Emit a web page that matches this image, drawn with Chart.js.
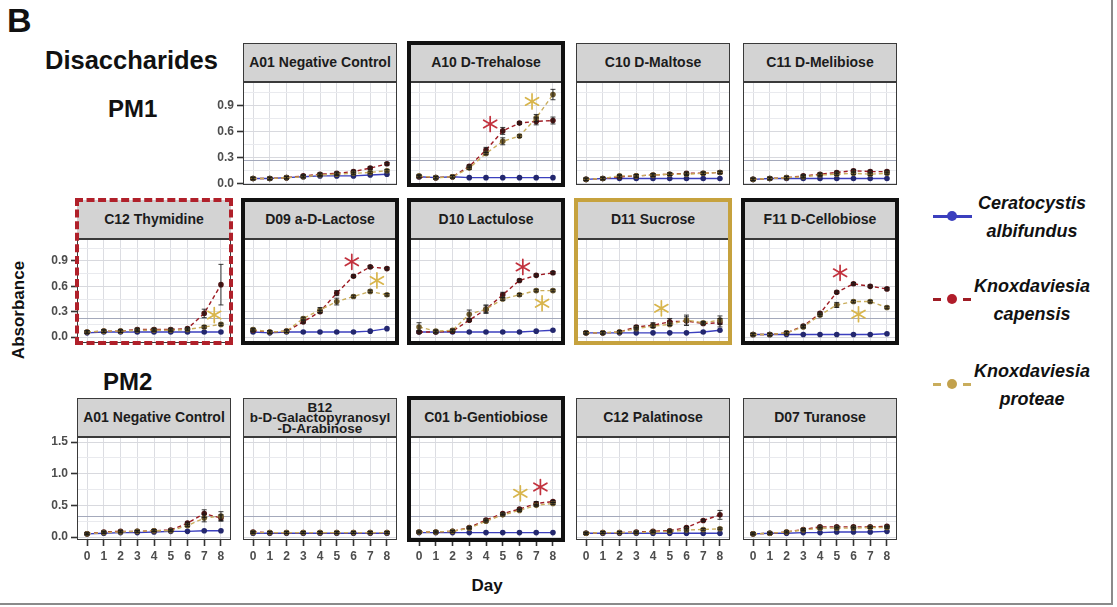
<!DOCTYPE html>
<html>
<head>
<meta charset="utf-8">
<script src="https://cdn.jsdelivr.net/npm/chart.js@4.4.1/dist/chart.umd.min.js"></script>
<style>
  html, body { margin: 0; padding: 0; background: #fff; }
  #fig { position: relative; width: 1117px; height: 607px; overflow: hidden;
         font-family: "Liberation Sans", Arial, Helvetica, sans-serif; color: #111; }
  .txt { position: absolute; white-space: nowrap; font-weight: bold; line-height: 1; }
  .strip { position: absolute; box-sizing: border-box; background: #d3d3d3;
           border-bottom: 1px solid #3a3a3a; display: flex; align-items: center;
           justify-content: center; text-align: center; font-weight: bold;
           font-size: 14px; color: #1c1c1c; white-space: pre; z-index: 2; }
  .strip.multi { font-size: 13.5px; line-height: 10.5px; padding-top: 3px; }
  .frame { position: absolute; box-sizing: border-box; pointer-events: none; z-index: 3; }
  .plot { position: absolute; z-index: 1; }
  .leg { position: absolute; font-weight: bold; font-style: italic; font-size: 18px;
         text-align: center; width: 150px; line-height: 28px; color: #111; }
</style>
</head>
<body>
<div id="fig"></div>
<script>
// ---------------- data ----------------
const days = [0, 1, 2, 3, 4, 5, 6, 7, 8];

const panelTitles = [
  'A01 Negative Control', 'A10 D-Trehalose', 'C10 D-Maltose', 'C11 D-Melibiose',
  'C12 Thymidine', 'D09 a-D-Lactose', 'D10 Lactulose', 'D11 Sucrose', 'F11 D-Cellobiose',
  'A01 Negative Control', 'B12\nb-D-Galactopyranosyl\n-D-Arabinose', 'C01 b-Gentiobiose',
  'C12 Palatinose', 'D07 Turanose'
];

// mean absorbance per panel, days 0..8
const albifundus = [
  [0.06, 0.06, 0.07, 0.08, 0.09, 0.09, 0.09, 0.10, 0.11],
  [0.08, 0.07, 0.08, 0.07, 0.07, 0.07, 0.07, 0.07, 0.07],
  [0.05, 0.06, 0.06, 0.06, 0.06, 0.06, 0.06, 0.06, 0.06],
  [0.05, 0.06, 0.06, 0.06, 0.06, 0.06, 0.06, 0.06, 0.06],
  [0.05, 0.06, 0.06, 0.06, 0.06, 0.06, 0.06, 0.06, 0.06],
  [0.06, 0.05, 0.06, 0.06, 0.06, 0.06, 0.06, 0.07, 0.10],
  [0.06, 0.06, 0.06, 0.06, 0.06, 0.06, 0.06, 0.07, 0.08],
  [0.05, 0.05, 0.05, 0.05, 0.05, 0.05, 0.05, 0.06, 0.08],
  [0.03, 0.03, 0.03, 0.03, 0.03, 0.03, 0.03, 0.03, 0.04],
  [0.05, 0.06, 0.07, 0.07, 0.08, 0.09, 0.09, 0.10, 0.10],
  [0.06, 0.06, 0.06, 0.06, 0.06, 0.06, 0.06, 0.06, 0.06],
  [0.07, 0.07, 0.07, 0.07, 0.07, 0.07, 0.07, 0.07, 0.07],
  [0.06, 0.06, 0.06, 0.06, 0.06, 0.06, 0.06, 0.06, 0.06],
  [0.05, 0.06, 0.06, 0.07, 0.07, 0.08, 0.08, 0.08, 0.09]
];

const capensis = [
  [0.06, 0.06, 0.07, 0.09, 0.11, 0.12, 0.14, 0.18, 0.23],
  [0.08, 0.07, 0.08, 0.20, 0.39, 0.61, 0.70, 0.72, 0.73],
  [0.05, 0.06, 0.08, 0.09, 0.10, 0.11, 0.12, 0.12, 0.13],
  [0.05, 0.06, 0.07, 0.09, 0.11, 0.13, 0.15, 0.14, 0.14],
  [0.06, 0.07, 0.07, 0.09, 0.09, 0.09, 0.10, 0.28, 0.62],
  [0.08, 0.06, 0.07, 0.18, 0.30, 0.52, 0.72, 0.83, 0.81],
  [0.06, 0.06, 0.07, 0.20, 0.33, 0.50, 0.67, 0.73, 0.76],
  [0.05, 0.05, 0.06, 0.12, 0.14, 0.18, 0.19, 0.16, 0.17],
  [0.03, 0.03, 0.05, 0.13, 0.28, 0.53, 0.63, 0.60, 0.57],
  [0.05, 0.08, 0.09, 0.09, 0.10, 0.11, 0.22, 0.37, 0.30],
  [0.08, 0.07, 0.07, 0.07, 0.07, 0.07, 0.07, 0.07, 0.07],
  [0.08, 0.08, 0.09, 0.15, 0.27, 0.37, 0.44, 0.53, 0.56],
  [0.06, 0.07, 0.07, 0.08, 0.09, 0.10, 0.15, 0.26, 0.35],
  [0.05, 0.06, 0.08, 0.12, 0.16, 0.16, 0.16, 0.16, 0.17]
];

const proteae = [
  [0.06, 0.06, 0.07, 0.08, 0.10, 0.11, 0.12, 0.13, 0.15],
  [0.09, 0.07, 0.08, 0.18, 0.35, 0.49, 0.55, 0.76, 1.03],
  [0.05, 0.06, 0.09, 0.09, 0.10, 0.11, 0.11, 0.12, 0.13],
  [0.05, 0.06, 0.07, 0.08, 0.10, 0.11, 0.12, 0.11, 0.12],
  [0.06, 0.07, 0.07, 0.08, 0.08, 0.08, 0.09, 0.12, 0.15],
  [0.09, 0.06, 0.07, 0.22, 0.32, 0.42, 0.48, 0.54, 0.50],
  [0.12, 0.07, 0.08, 0.27, 0.33, 0.45, 0.50, 0.55, 0.55],
  [0.05, 0.05, 0.06, 0.10, 0.13, 0.15, 0.20, 0.17, 0.20],
  [0.03, 0.03, 0.05, 0.12, 0.26, 0.38, 0.42, 0.42, 0.35],
  [0.05, 0.07, 0.08, 0.09, 0.10, 0.10, 0.18, 0.30, 0.33],
  [0.07, 0.07, 0.07, 0.07, 0.07, 0.07, 0.07, 0.07, 0.07],
  [0.08, 0.08, 0.09, 0.14, 0.25, 0.35, 0.42, 0.50, 0.53],
  [0.06, 0.07, 0.07, 0.07, 0.08, 0.09, 0.11, 0.12, 0.13],
  [0.05, 0.06, 0.08, 0.11, 0.14, 0.14, 0.14, 0.15, 0.15]
];

// standard deviations: default for every point, then [panel, day, sd] overrides
const defaultSd = 0.015;
const capensisSd = [
  [1, 4, 0.03], [1, 5, 0.04], [1, 7, 0.04], [1, 8, 0.04],
  [4, 7, 0.05], [4, 8, 0.24], [5, 5, 0.03], [6, 4, 0.04], [6, 5, 0.03],
  [7, 4, 0.03], [7, 5, 0.04], [7, 6, 0.05], [7, 8, 0.05],
  [9, 7, 0.06], [9, 8, 0.05], [11, 7, 0.03], [12, 8, 0.07]
];
const proteaeSd = [
  [1, 5, 0.04], [1, 7, 0.04], [1, 8, 0.06], [5, 4, 0.03], [5, 5, 0.04],
  [6, 0, 0.05], [6, 3, 0.05], [6, 4, 0.05], [7, 6, 0.06], [7, 8, 0.05],
  [8, 5, 0.03], [9, 7, 0.06], [9, 8, 0.07]
];

// significance markers: [panel, day position, absorbance, species]
const significance = [
  [1, 4.25, 0.69, 'capensis'], [1, 6.75, 0.95, 'proteae'],
  [4, 7.6, 0.26, 'proteae'],
  [5, 5.9, 0.89, 'capensis'], [5, 7.4, 0.67, 'proteae'],
  [6, 6.2, 0.83, 'capensis'], [6, 7.35, 0.40, 'proteae'],
  [7, 4.5, 0.34, 'proteae'],
  [8, 5.2, 0.76, 'capensis'], [8, 6.3, 0.27, 'proteae'],
  [11, 6.05, 0.69, 'proteae'], [11, 7.25, 0.79, 'capensis']
];

// background cut-off line for each row of panels
const cutoff = [0.27, 0.22, 0.33];

// y tick steps per row: [minor, major]
const yStep = [[0.15, 0.3], [0.15, 0.3], [0.25, 0.5]];

// ---------------- layout ----------------
const colX = [77, 243, 409, 576, 743];
const panelW = 154;
const rowTop = [43, 200, 398];
const rowH = [142, 143, 142];
const stripH = 39;
const labelRoom = 9;
const yRange = [[-0.015, 1.175], [-0.07, 1.16], [-0.047, 1.58]];
const panelRow = [0, 0, 0, 0, 1, 1, 1, 1, 1, 2, 2, 2, 2, 2];
const panelCol = [1, 2, 3, 4, 0, 1, 2, 3, 4, 0, 1, 2, 3, 4];
const panelFrame = ['', 'black', '', '', 'red', 'black', 'black', 'gold', 'black',
                    '', '', 'black', '', ''];

const colours = {
  albifundus: { line: '#3b3fbe', point: '#23276e' },
  capensis:   { line: '#9e1c24', point: '#4d1414' },
  proteae:    { line: '#c9ad5c', point: '#6f5b2c' }
};
const starColour = { capensis: '#c2323e', proteae: '#d8b54c' };

const fig = document.getElementById('fig');
function addText(html, css, cls) {
  const d = document.createElement('div');
  d.className = cls || 'txt';
  d.innerHTML = html;
  Object.assign(d.style, css);
  fig.appendChild(d);
  return d;
}

// panel decorations: cut-off line, error bars, significance stars, frame
const panelDecor = {
  id: 'panelDecor',
  beforeDatasetsDraw(chart, args, o) {
    const { ctx, chartArea: a, scales: { y } } = chart;
    const py = Math.round(y.getPixelForValue(o.cutoff)) + 0.5;
    ctx.save();
    ctx.strokeStyle = '#a4a9bb';
    ctx.lineWidth = 1;
    ctx.beginPath(); ctx.moveTo(a.left, py); ctx.lineTo(a.right, py); ctx.stroke();
    ctx.restore();
  },
  afterDatasetsDraw(chart, args, o) {
    const { ctx, chartArea: a, scales: { x, y } } = chart;
    ctx.save();
    ctx.strokeStyle = 'rgba(25,25,25,0.85)';
    ctx.lineWidth = 1;
    o.errors.forEach(([vals, sds]) => {
      vals.forEach((v, i) => {
        const sd = sds[i];
        const px = x.getPixelForValue(days[i]);
        const y1 = y.getPixelForValue(v - sd), y2 = y.getPixelForValue(v + sd);
        ctx.beginPath();
        ctx.moveTo(px, y1); ctx.lineTo(px, y2);
        ctx.moveTo(px - 2.5, y1); ctx.lineTo(px + 2.5, y1);
        ctx.moveTo(px - 2.5, y2); ctx.lineTo(px + 2.5, y2);
        ctx.stroke();
      });
    });
    ctx.restore();
    // asterisks
    o.stars.forEach(([, dx, v, sp]) => {
      const cx = x.getPixelForValue(dx), cy = y.getPixelForValue(v);
      ctx.save();
      ctx.strokeStyle = starColour[sp];
      ctx.lineWidth = 1.7;
      ctx.lineCap = 'round';
      ctx.beginPath();
      for (let k = 0; k < 3; k++) {
        const ang = Math.PI / 2 + k * Math.PI / 3;
        const r = 7.5;
        ctx.moveTo(cx - r * Math.cos(ang), cy - r * Math.sin(ang));
        ctx.lineTo(cx + r * Math.cos(ang), cy + r * Math.sin(ang));
      }
      ctx.stroke();
      ctx.restore();
    });
    ctx.save();
    ctx.strokeStyle = '#3a3a3a';
    ctx.lineWidth = 1;
    ctx.strokeRect(a.left + 0.5, a.top + 0.5, a.right - a.left - 1, a.bottom - a.top - 1);
    ctx.restore();
  }
};

function sdArray(p, vals, overrides) {
  const out = vals.map(() => defaultSd);
  overrides.forEach(([pp, d, s]) => { if (pp === p) out[d] = s; });
  return out;
}

function isMultiple(v, step) {
  const r = v / step;
  return Math.abs(r - Math.round(r)) < 1e-6;
}

panelTitles.forEach((title, p) => {
  const r = panelRow[p], c = panelCol[p];
  const left = colX[c], top = rowTop[r], h = rowH[r];
  const showY = c === (r === 0 ? 1 : 0);
  const showX = r === 2;
  const leftW = showY ? 44 : 0;
  const bottomH = showX ? 30 : 0;
  const padTop = showY ? labelRoom : 0;
  const padBottom = showY && !showX ? labelRoom : 0;
  const plotTop = top + stripH;
  const plotH = h - stripH;

  // strip
  const s = document.createElement('div');
  s.className = 'strip' + (title.includes('\n') ? ' multi' : '');
  s.textContent = title;
  Object.assign(s.style, { left: left + 'px', top: top + 'px', width: panelW + 'px', height: stripH + 'px' });
  fig.appendChild(s);

  // frame
  const f = document.createElement('div');
  f.className = 'frame';
  let border = '1px solid #3a3a3a', inset = 0;
  if (panelFrame[p] === 'black') { border = '4px solid #111'; inset = 2; }
  if (panelFrame[p] === 'gold') { border = '4px solid #c6a23e'; inset = 2; }
  if (panelFrame[p] === 'red') { border = '4px dashed #b0202a'; inset = 2; }
  Object.assign(f.style, {
    left: (left - inset) + 'px', top: (top - inset) + 'px',
    width: (panelW + 2 * inset) + 'px', height: (h + 2 * inset) + 'px', border
  });
  fig.appendChild(f);

  // chart
  const box = document.createElement('div');
  box.className = 'plot';
  Object.assign(box.style, {
    left: (left - leftW) + 'px', top: (plotTop - padTop) + 'px',
    width: (panelW + leftW) + 'px', height: (plotH + bottomH + padTop + padBottom) + 'px'
  });
  const cv = document.createElement('canvas');
  box.appendChild(cv);
  fig.appendChild(box);

  const [minor, major] = yStep[r];
  const series = [
    ['Knoxdaviesia proteae', proteae[p], colours.proteae, [4, 3]],
    ['Knoxdaviesia capensis', capensis[p], colours.capensis, [4, 3]],
    ['Ceratocystis albifundus', albifundus[p], colours.albifundus, []]
  ];

  new Chart(cv, {
    type: 'line',
    data: {
      datasets: series.map(([label, vals, col, dash]) => ({
        label,
        data: days.map((d, i) => ({ x: d, y: vals[i] })),
        borderColor: col.line,
        backgroundColor: col.point,
        pointBackgroundColor: col.point,
        pointBorderWidth: 0,
        pointRadius: 2.8,
        borderWidth: 1.4,
        borderDash: dash,
        tension: 0,
        fill: false
      }))
    },
    options: {
      responsive: true,
      maintainAspectRatio: false,
      animation: false,
      events: [],
      layout: { padding: { top: padTop, bottom: padBottom, left: 0, right: 0 }, autoPadding: false },
      plugins: {
        legend: { display: false },
        tooltip: { enabled: false },
        panelDecor: {
          cutoff: cutoff[r],
          errors: [
            [capensis[p], sdArray(p, capensis[p], capensisSd)],
            [proteae[p], sdArray(p, proteae[p], proteaeSd)]
          ],
          stars: significance.filter(sg => sg[0] === p)
        }
      },
      scales: {
        x: {
          type: 'linear', min: -0.6, max: 8.6,
          border: { display: false },
          grid: { color: '#dcdde2', lineWidth: 1, drawTicks: showX, tickLength: 6,
                  tickColor: '#333', tickWidth: 1.6 },
          ticks: { display: showX, stepSize: 1, includeBounds: false, padding: 3,
                   maxRotation: 0, autoSkip: false,
                   color: '#4d4d4d', font: { family: 'Liberation Sans', size: 12, weight: 'bold' } },
          afterFit(sc) { sc.height = bottomH; sc.paddingLeft = 0; sc.paddingRight = 0; }
        },
        y: {
          type: 'linear', min: yRange[r][0], max: yRange[r][1],
          border: { display: false },
          grid: {
            color: ctx => isMultiple(ctx.tick.value, major) ? '#d8d9de' : '#e9eaee',
            lineWidth: 1, drawTicks: showY, tickLength: 6, tickWidth: 1.6,
            tickColor: ctx => isMultiple(ctx.tick.value, major) ? '#333' : 'rgba(0,0,0,0)'
          },
          ticks: {
            display: showY, stepSize: minor, includeBounds: false, padding: 3, autoSkip: false,
            color: '#4d4d4d', font: { family: 'Liberation Sans', size: 12, weight: 'bold' },
            callback: v => isMultiple(v, major) ? v.toFixed(1) : ''
          },
          afterFit(sc) { sc.width = leftW; sc.paddingTop = 0; sc.paddingBottom = 0; }
        }
      }
    },
    plugins: [panelDecor]
  });
});

// ---------------- headings and axis titles ----------------
addText('B', { left: '7px', top: '3px', fontSize: '34px' });
addText('Disaccharides', { left: '45px', top: '48px', fontSize: '25.5px' });
addText('PM1', { left: '108px', top: '97px', fontSize: '24px' });
addText('PM2', { left: '103px', top: '370px', fontSize: '24px' });
addText('Absorbance', { left: '18px', top: '310px', fontSize: '17px',
  transform: 'translate(-50%, -50%) rotate(-90deg)' });
addText('Day', { left: '487px', top: '577px', fontSize: '17px', transform: 'translateX(-50%)' });

// ---------------- legend ----------------
const legendItems = [
  ['Ceratocystis', 'albifundus', 216, colours.albifundus.line, '#3b3fbe', false],
  ['Knoxdaviesia', 'capensis', 299, colours.capensis.line, '#b01c2a', true],
  ['Knoxdaviesia', 'proteae', 384, colours.proteae.line, '#c2a14c', true]
];
legendItems.forEach(([l1, l2, cy, lineCol, dotCol, dashed]) => {
  if (dashed) {
    [[933, 941], [963, 971]].forEach(([a, b]) => {
      addText('', { left: a + 'px', top: (cy - 1.5) + 'px', width: (b - a) + 'px', height: '3px', background: lineCol }, 'txt');
    });
  } else {
    addText('', { left: '933px', top: (cy - 1.5) + 'px', width: '39px', height: '3px', background: lineCol }, 'txt');
  }
  addText('', { left: '947px', top: (cy - 5) + 'px', width: '10px', height: '10px',
    borderRadius: '50%', background: dotCol }, 'txt');
  addText(l1 + '<br>' + l2, { left: '957px', top: (cy - 27) + 'px' }, 'leg');
});

// figure border lines
addText('', { left: '1111px', top: '0px', width: '2px', height: '605px', background: '#8a8a8a' }, 'txt');
addText('', { left: '0px', top: '603px', width: '1113px', height: '2px', background: '#8a8a8a' }, 'txt');
</script>
</body>
</html>
